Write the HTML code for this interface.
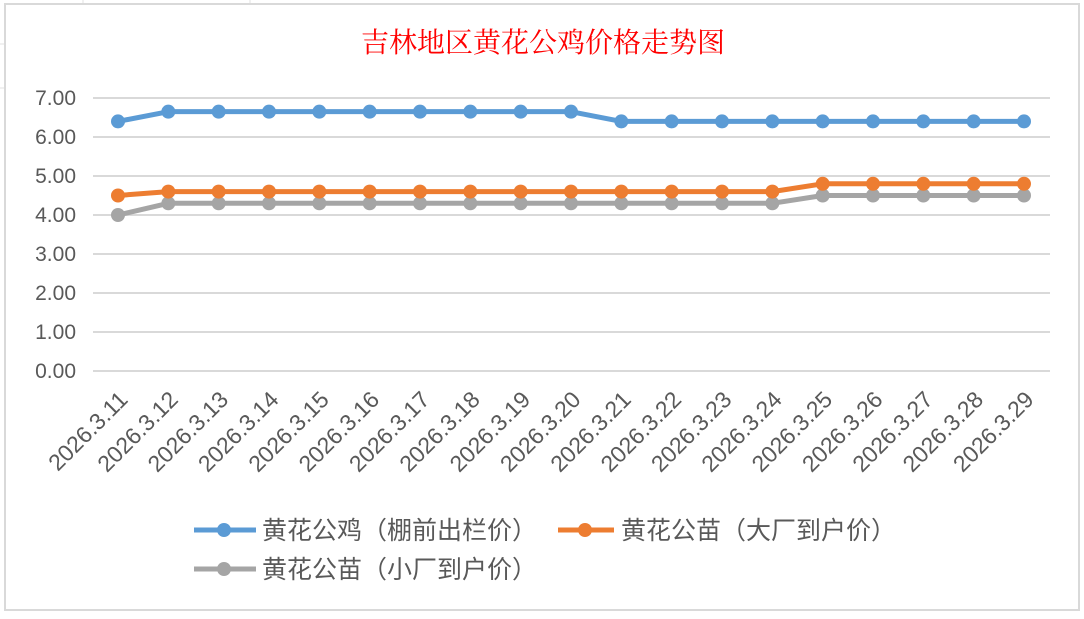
<!DOCTYPE html>
<html><head><meta charset="utf-8"><style>
body{margin:0;background:#fff;width:1084px;height:614px;overflow:hidden}
text{font-family:"Liberation Sans","Noto Sans CJK SC",sans-serif;fill:#595959}
</style></head><body>
<svg width="1084" height="614" xmlns="http://www.w3.org/2000/svg">
<rect x="0" y="0" width="1084" height="614" fill="#fff"/>
<g stroke="#e0e0e0" stroke-width="1">
<line x1="0" y1="44" x2="5" y2="44"/><line x1="0" y1="88" x2="5" y2="88"/>
<line x1="83" y1="0" x2="83" y2="4"/><line x1="250" y1="0" x2="250" y2="4"/>
</g>
<rect x="5" y="4" width="1074" height="606" fill="#fff" stroke="#d9d9d9" stroke-width="2"/>
<text x="543" y="52" text-anchor="middle" style="font-family:'Liberation Serif','Noto Serif CJK SC',serif;fill:#ff0000;font-size:28px">吉林地区黄花公鸡价格走势图</text>
<g stroke="#d9d9d9" stroke-width="2">
<line x1="93" x2="1050" y1="98" y2="98"/><line x1="93" x2="1050" y1="137" y2="137"/>
<line x1="93" x2="1050" y1="176" y2="176"/><line x1="93" x2="1050" y1="215" y2="215"/>
<line x1="93" x2="1050" y1="254" y2="254"/><line x1="93" x2="1050" y1="293" y2="293"/>
<line x1="93" x2="1050" y1="332" y2="332"/><line x1="93" x2="1050" y1="371" y2="371"/>
</g>
<g font-size="21" text-anchor="end">
<text x="76" y="105">7.00</text><text x="76" y="144">6.00</text><text x="76" y="183">5.00</text>
<text x="76" y="222">4.00</text><text x="76" y="261">3.00</text><text x="76" y="300">2.00</text>
<text x="76" y="339">1.00</text><text x="76" y="378">0.00</text>
</g>
<g id="lbl" font-size="23" text-anchor="end"></g>
<g id="ser"></g>
<g>
<line x1="194" y1="530" x2="256" y2="530" stroke="#5b9bd5" stroke-width="5"/><circle cx="224" cy="530" r="7" fill="#5b9bd5"/>
<text x="262" y="539" font-size="25">黄花公鸡（棚前出栏价）</text>
<line x1="558" y1="530" x2="614" y2="530" stroke="#ed7d31" stroke-width="5"/><circle cx="585" cy="530" r="7" fill="#ed7d31"/>
<text x="621" y="539" font-size="25">黄花公苗（大厂到户价）</text>
<line x1="194" y1="569" x2="256" y2="569" stroke="#a5a5a5" stroke-width="5"/><circle cx="224" cy="569" r="7" fill="#a5a5a5"/>
<text x="262" y="578" font-size="25">黄花公苗（小厂到户价）</text>
</g>
</svg>
<script>
var ns="http://www.w3.org/2000/svg";
var data=[["#5b9bd5",[6.4,6.65,6.65,6.65,6.65,6.65,6.65,6.65,6.65,6.65,6.4,6.4,6.4,6.4,6.4,6.4,6.4,6.4,6.4]],
["#ed7d31",[4.5,4.6,4.6,4.6,4.6,4.6,4.6,4.6,4.6,4.6,4.6,4.6,4.6,4.6,4.8,4.8,4.8,4.8,4.8]],
["#a5a5a5",[4.0,4.3,4.3,4.3,4.3,4.3,4.3,4.3,4.3,4.3,4.3,4.3,4.3,4.3,4.5,4.5,4.5,4.5,4.5]]];
var g=document.getElementById("ser"),L=document.getElementById("lbl");
function X(i){return 118+i*(906/18)}function Y(v){return 371-v*39}
for(var i=0;i<19;i++){var t=document.createElementNS(ns,"text");var x=X(i)+11,y=401;
t.setAttribute("x",x);t.setAttribute("y",y);t.setAttribute("transform","rotate(-45 "+x+" "+y+")");
t.textContent="2026.3."+(11+i);L.appendChild(t);}
data.reverse().forEach(function(s){var p=s[1].map(function(v,i){return X(i)+","+Y(v)}).join(" ");
var pl=document.createElementNS(ns,"polyline");pl.setAttribute("points",p);pl.setAttribute("fill","none");
pl.setAttribute("stroke",s[0]);pl.setAttribute("stroke-width","5");pl.setAttribute("stroke-linejoin","round");g.appendChild(pl);
s[1].forEach(function(v,i){var c=document.createElementNS(ns,"circle");c.setAttribute("cx",X(i));c.setAttribute("cy",Y(v));
c.setAttribute("r","7");c.setAttribute("fill",s[0]);g.appendChild(c);});});
</script>
</body></html>
